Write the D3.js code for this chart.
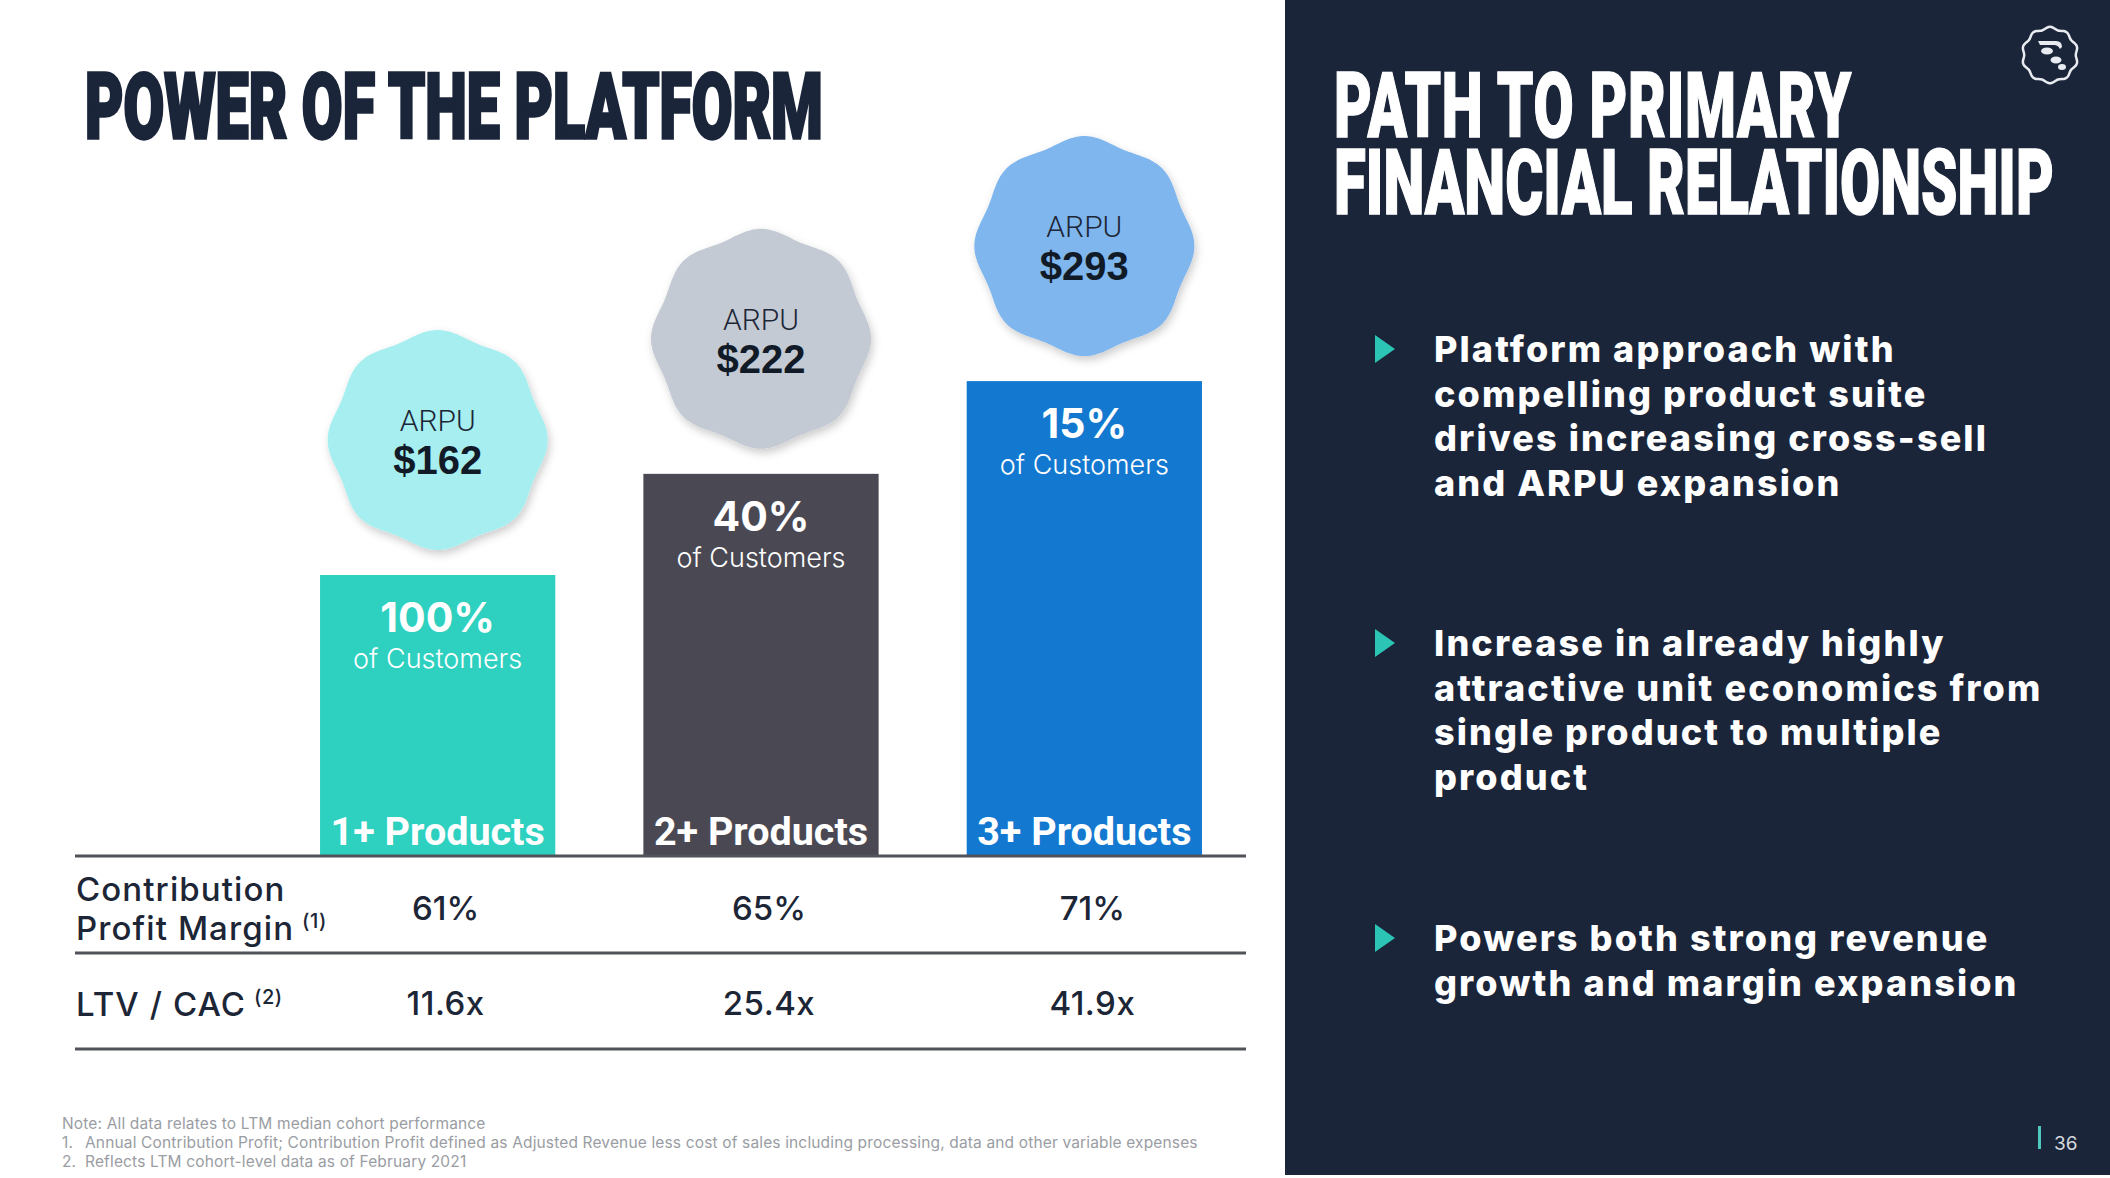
<!DOCTYPE html>
<html><head><meta charset="utf-8">
<script src="https://cdn.jsdelivr.net/npm/d3@7"></script>
<style>html,body{margin:0;padding:0;background:#fff;overflow:hidden}</style>
</head><body>
<svg id="chart" width="2110" height="1178"></svg>
<script>
// ---------- data ----------
const categories = ["1+ Products", "2+ Products", "3+ Products"];
const customerShare = [100, 40, 15];          // % of customers
const arpu = [162, 222, 293];                 // ARPU $
const barIndex = [100, 136, 169];             // relative bar height
const contributionMargin = [61, 65, 71];      // %
const ltvCac = [11.6, 25.4, 41.9];            // x
const rowLabels = [["Contribution", "Profit Margin"], ["LTV / CAC"]];
const rowNotes = ["(1)", "(2)"];
const leftTitle = "POWER OF THE PLATFORM";
const rightTitle = ["PATH TO PRIMARY", "FINANCIAL RELATIONSHIP"];
const bullets = [
  ["Platform approach with", "compelling product suite", "drives increasing cross-sell", "and ARPU expansion"],
  ["Increase in already highly", "attractive unit economics from", "single product to multiple", "product"],
  ["Powers both strong revenue", "growth and margin expansion"]
];
const footnotes = [
  ["", "Note: All data relates to LTM median cohort performance"],
  ["1.", "Annual Contribution Profit; Contribution Profit defined as Adjusted Revenue less cost of sales including processing, data and other variable expenses"],
  ["2.", "Reflects LTM cohort-level data as of February 2021"]
];
const pageNumber = "36";

// ---------- styles ----------
const barColors = ["#2ed0c0", "#4a4953", "#1378cf"];
const bubbleColors = ["#a6eeef", "#c4cad3", "#80b6ee"];
const navy = "#1a2539";
const ink = "#1c2636";

const svg = d3.select("#chart");
const defs = svg.append("defs");
const f = defs.append("filter").attr("id", "shadow").attr("x", "-20%").attr("y", "-20%").attr("width", "140%").attr("height", "140%");
f.append("feDropShadow").attr("dx", 2).attr("dy", 4).attr("stdDeviation", 4)
  .attr("flood-color", "#000").attr("flood-opacity", 0.2);

svg.append("rect").attr("width", 2110).attr("height", 1178).attr("fill", "#ffffff");

// condensed heavy headline (one text element, one tspan per line),
// each line fitted to its measured width
function headline(lines, x0, y0, widths, capH, lineGap, color, family, strokeW) {
  const fs = 60;
  const sy = capH / (0.711 * fs);
  const t = svg.append("text")
    .attr("font-family", family)
    .attr("font-weight", 900).attr("font-size", fs)
    .attr("fill", color).attr("stroke", color).attr("stroke-width", strokeW);
  const spans = lines.map((l, i) => t.append("tspan").attr("x", 0).attr("y", i * lineGap / sy).text(l));
  const nat = spans.map(s => s.node().getComputedTextLength());
  const k = d3.maxIndex(widths);
  const sx = widths[k] / nat[k];
  spans.forEach((s, i) => {
    if (i !== k) s.attr("letter-spacing", (widths[i] / sx - nat[i]) / lines[i].length);
  });
  t.attr("transform", `translate(${x0},${y0}) scale(${sx},${sy})`);
  return t;
}

// ---------- scales ----------
const x = d3.scaleBand().domain(categories).range([276, 1246])
  .paddingInner(0.2724).paddingOuter(0.1362);
const y = d3.scaleLinear().domain([0, 100]).range([856, 575]);
const cx = c => x(c) + x.bandwidth() / 2;

// ---------- left title ----------
headline([leftTitle], 85, 138, [738], 65, 0, navy, "'Liberation Sans Narrow', Roboto, sans-serif", 2.2);

// ---------- bars ----------
const data = categories.map((c, i) => ({
  c, share: customerShare[i], arpu: arpu[i], idx: barIndex[i],
  margin: contributionMargin[i], ltv: ltvCac[i], i
}));

const g = svg.append("g");
g.selectAll("rect.bar").data(data).join("rect").attr("class", "bar")
  .attr("x", d => x(d.c)).attr("width", x.bandwidth())
  .attr("y", d => y(d.idx)).attr("height", d => y(0) - y(d.idx))
  .attr("fill", d => barColors[d.i]);

g.selectAll("text.pct").data(data).join("text").attr("class", "pct")
  .attr("x", d => cx(d.c)).attr("y", d => y(d.idx) + 57)
  .attr("text-anchor", "middle").attr("font-family", "Inter, sans-serif")
  .attr("font-weight", 700).attr("font-size", 41).attr("fill", "#fff")
  .text(d => d.share + "%");

g.selectAll("text.ofc").data(data).join("text").attr("class", "ofc")
  .attr("x", d => cx(d.c)).attr("y", d => y(d.idx) + 93)
  .attr("text-anchor", "middle").attr("font-family", "Inter, sans-serif")
  .attr("font-weight", 300).attr("font-size", 27).attr("fill", "#fff")
  .text("of Customers");

g.selectAll("text.cat").data(data).join("text").attr("class", "cat")
  .attr("x", d => cx(d.c)).attr("y", 845)
  .attr("text-anchor", "middle").attr("font-family", "Roboto, sans-serif")
  .attr("font-weight", 700).attr("font-size", 39.5).attr("fill", "#fff")
  .text(d => d.c);

// ---------- bubbles ----------
const lobes = 8;
const bubble = d3.lineRadial().curve(d3.curveCardinalClosed)
  .angle(a => a).radius(a => 107 + 3 * Math.cos(lobes * a));
const angles = d3.range(0, 2 * Math.PI, Math.PI / 90);

const bg = g.selectAll("g.bub").data(data).join("g").attr("class", "bub")
  .attr("transform", d => `translate(${cx(d.c)},${y(d.idx) - 135})`);
bg.append("path").attr("d", bubble(angles))
  .attr("fill", d => bubbleColors[d.i]).attr("filter", "url(#shadow)");
bg.append("text").attr("y", -9).attr("text-anchor", "middle")
  .attr("font-family", "Roboto, sans-serif").attr("font-weight", 300)
  .attr("font-size", 30).attr("fill", ink).text("ARPU");
bg.append("text").attr("y", 34).attr("text-anchor", "middle")
  .attr("font-family", "'Liberation Sans', Arial, sans-serif").attr("font-weight", 700)
  .attr("font-size", 40).attr("fill", "#111a27").text(d => "$" + d.arpu);

// ---------- table ----------
const lineYs = [856, 953, 1049];
svg.selectAll("line.rule").data(lineYs).join("line").attr("class", "rule")
  .attr("x1", 75).attr("x2", 1246).attr("y1", d => d).attr("y2", d => d)
  .attr("stroke", "#50535a").attr("stroke-width", 3);

const tableFont = "Inter, sans-serif";
const lab1 = svg.append("text").attr("font-family", tableFont).attr("font-weight", 500)
  .attr("font-size", 33).attr("fill", ink).attr("letter-spacing", 1.1);
lab1.append("tspan").attr("x", 76).attr("y", 901).text(rowLabels[0][0]);
lab1.append("tspan").attr("x", 76).attr("y", 940).text(rowLabels[0][1]);
lab1.append("tspan").attr("dx", 8).attr("dy", -12).attr("font-size", 20).attr("letter-spacing", 0.5).text(rowNotes[0]);

const lab2 = svg.append("text").attr("font-family", tableFont).attr("font-weight", 500)
  .attr("font-size", 33).attr("fill", ink).attr("letter-spacing", 1.1);
lab2.append("tspan").attr("x", 76).attr("y", 1016).text(rowLabels[1][0]);
lab2.append("tspan").attr("dx", 8).attr("dy", -12).attr("font-size", 20).attr("letter-spacing", 0.5).text(rowNotes[1]);

svg.selectAll("text.margin").data(data).join("text").attr("class", "margin")
  .attr("x", d => cx(d.c) + 8).attr("y", 920).attr("text-anchor", "middle")
  .attr("font-family", tableFont).attr("font-weight", 500).attr("font-size", 33)
  .attr("fill", ink).text(d => d.margin + "%");

svg.selectAll("text.ltv").data(data).join("text").attr("class", "ltv")
  .attr("x", d => cx(d.c) + 8).attr("y", 1015).attr("text-anchor", "middle")
  .attr("font-family", tableFont).attr("font-weight", 500).attr("font-size", 33)
  .attr("letter-spacing", 0.5)
  .attr("fill", ink).text(d => d3.format(".1f")(d.ltv) + "x");

// ---------- footnotes ----------
const fn = svg.append("g").attr("font-family", "Inter, sans-serif").attr("font-size", 15.5)
  .attr("letter-spacing", 0.15).attr("fill", "#9a9da3");
footnotes.forEach((r, i) => {
  const t = fn.append("text").attr("y", 1129 + i * 19);
  if (r[0]) {
    t.append("tspan").attr("x", 62).text(r[0]);
    t.append("tspan").attr("x", 85).text(r[1]);
  } else {
    t.append("tspan").attr("x", 62).text(r[1]);
  }
});

// ---------- right panel ----------
svg.append("rect").attr("x", 1285).attr("y", 0).attr("width", 825).attr("height", 1178).attr("fill", navy);

headline(rightTitle, 1334, 137, [518, 720], 64, 77, "#ffffff", "Roboto, 'Liberation Sans Narrow', sans-serif", 1);

const bulletTops = [362, 656, 951];
bullets.forEach((lines, bi) => {
  const by = bulletTops[bi];
  svg.append("path")
    .attr("d", d3.line()([[1375, by - 27], [1395, by - 13], [1375, by + 1]]) + "Z")
    .attr("fill", "#2bc4b5");
  const t = svg.append("text").attr("font-family", "Inter, sans-serif")
    .attr("font-weight", 800).attr("font-size", 36).attr("fill", "#ffffff")
    .attr("letter-spacing", 2.1);
  lines.forEach((l, li) => t.append("tspan").attr("x", 1434).attr("y", by + li * 44.6).text(l));
});

// logo
const logo = svg.append("g").attr("transform", "translate(2050,55)");
logo.append("path")
  .attr("d", d3.lineRadial().curve(d3.curveCardinalClosed).angle(a => a)
    .radius(a => 27 + 1.2 * Math.cos(10 * a))(d3.range(0, 2 * Math.PI, Math.PI / 60)))
  .attr("fill", "none").attr("stroke", "#e8ecf0").attr("stroke-width", 2.5);
logo.append("path").attr("d", "M-12,-14 L6,-14 Q12,-14 12,-8 L10,-6 Q8,-10 4,-10 L-10,-10 Z").attr("fill", "#e8ecf0");
logo.append("ellipse").attr("cx", -3).attr("cy", -4).attr("rx", 6).attr("ry", 3.5).attr("fill", "#e8ecf0");
logo.append("ellipse").attr("cx", 6).attr("cy", 5).attr("rx", 5.5).attr("ry", 3.5).attr("fill", "#e8ecf0");
logo.append("ellipse").attr("cx", 12).attr("cy", 12).attr("rx", 4).attr("ry", 3).attr("fill", "#e8ecf0");

// page number
svg.append("rect").attr("x", 2038).attr("y", 1126).attr("width", 3).attr("height", 23).attr("fill", "#4fc9c0");
svg.append("text").attr("x", 2054).attr("y", 1150).attr("font-family", "Inter, sans-serif")
  .attr("font-size", 19).attr("fill", "#d5d9df").text(pageNumber);
svg.append("rect").attr("x", 0).attr("y", 1175).attr("width", 2110).attr("height", 3).attr("fill", "#ffffff");
</script>
</body></html>
